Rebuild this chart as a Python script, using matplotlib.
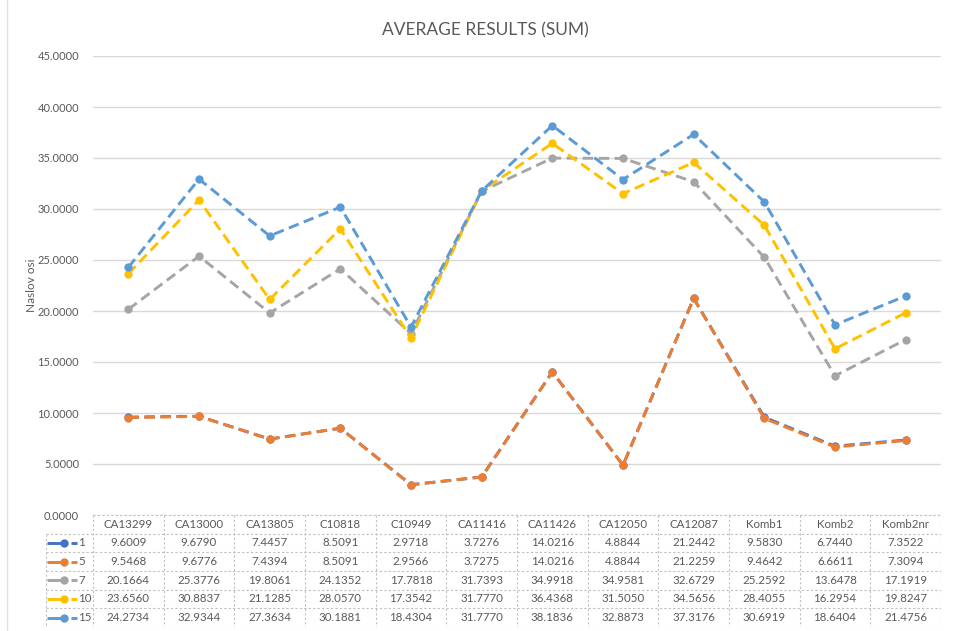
import numpy as np
import matplotlib.pyplot as plt
from matplotlib.lines import Line2D

plt.rcParams['font.family'] = ['Lato', 'DejaVu Sans']

categories = ['CA13299', 'CA13000', 'CA13805', 'C10818', 'C10949', 'CA11416',
              'CA11426', 'CA12050', 'CA12087', 'Komb1', 'Komb2', 'Komb2nr']

s1 = [9.6009, 9.6790, 7.4457, 8.5091, 2.9718, 3.7276, 14.0216, 4.8844, 21.2442, 9.5830, 6.7440, 7.3522]
s5 = [9.5468, 9.6776, 7.4394, 8.5091, 2.9566, 3.7275, 14.0216, 4.8844, 21.2259, 9.4642, 6.6611, 7.3094]
s7 = [20.1664, 25.3776, 19.8061, 24.1352, 17.7818, 31.7393, 34.9918, 34.9581, 32.6729, 25.2592, 13.6478, 17.1919]
s10 = [23.6560, 30.8837, 21.1285, 28.0570, 17.3542, 31.7770, 36.4368, 31.5050, 34.5656, 28.4055, 16.2954, 19.8247]
s15 = [24.2734, 32.9344, 27.3634, 30.1881, 18.4304, 31.7770, 38.1836, 32.8873, 37.3176, 30.6919, 18.6404, 21.4756]

series_names = ['1', '5', '7', '10', '15']
series_vals = [s1, s5, s7, s10, s15]
colors = ['#4472C4', '#ED7D31', '#A5A5A5', '#FFC000', '#5B9BD5']

W, H = 954, 631
fig = plt.figure(figsize=(W / 100, H / 100), dpi=100)

def px_rect(x0, y0, x1, y1):
    return [x0 / W, 1 - y1 / H, (x1 - x0) / W, (y1 - y0) / H]

txt = '#595959'
grid_c = '#D9D9D9'

ax = fig.add_axes(px_rect(93, 56, 941, 515))
x = np.arange(len(categories))
for name, vals, c in zip(series_names, series_vals, colors):
    ax.plot(x, vals, color=c, lw=2.1, ls=(0, (3.6, 1.9)), marker='o', ms=6,
            markeredgewidth=0, label=name, zorder=3)

ax.set_xlim(-0.5, len(categories) - 0.5)
ax.set_ylim(0, 45)
ax.set_yticks(np.arange(0, 46, 5))
ax.set_yticklabels([f'{v:.4f}' for v in np.arange(0, 46, 5)])
ax.set_xticks([])
ax.tick_params(axis='y', length=0, pad=10, labelsize=8, labelcolor=txt)
ax.grid(axis='y', color=grid_c, lw=1)
ax.set_axisbelow(True)
for s in ax.spines.values():
    s.set_visible(False)
ax.set_ylabel('Naslov osi', fontsize=8.5, color=txt)
ax.yaxis.set_label_coords((37 - 93) / (941 - 93), 0.5)
fig.text(485 / W, 1 - 30 / H, 'AVERAGE RESULTS (SUM)', fontsize=12.5, color=txt,
         ha='center', va='center')

# data table below the plot
px_per_unit = (941 - 93) / len(categories)
left_x = -0.5 - (93 - 46) / px_per_unit
tab = fig.add_axes(px_rect(46, 515, 941, 627))
tab.set_xlim(left_x, len(categories) - 0.5)
tab.set_ylim(6, 0)
tab.axis('off')

dash = dict(color='#BFBFBF', lw=0.8, ls=(0, (2, 2)))
# horizontal lines
tab.plot([-0.5, len(categories) - 0.5], [0, 0], **dash)
for r in range(1, 7):
    tab.plot([left_x, len(categories) - 0.5], [r, r], **dash)
# vertical lines
for i in range(len(categories) + 1):
    tab.plot([i - 0.5, i - 0.5], [0, 6], **dash)
tab.plot([left_x, left_x], [1, 6], **dash)

for i, cat in enumerate(categories):
    tab.text(i, 0.5, cat, ha='center', va='center', fontsize=8.3, color=txt)

key_w = (93 - 46) / px_per_unit
for r, (name, vals, c) in enumerate(zip(series_names, series_vals, colors), start=1):
    yk = r + 0.5
    k0 = left_x + 0.03 * key_w
    tab.plot([k0, k0 + 0.36 * key_w], [yk, yk], color=c, lw=2.1, solid_capstyle='butt')
    tab.plot([k0 + 0.36 * key_w], [yk], 'o', color=c, ms=6, markeredgewidth=0)
    tab.plot([k0 + 0.5 * key_w, k0 + 0.62 * key_w], [yk, yk], color=c, lw=2.1,
             solid_capstyle='butt')
    tab.text(k0 + 0.66 * key_w, yk, name, ha='left', va='center', fontsize=8.3, color=txt)
    for i, v in enumerate(vals):
        tab.text(i, yk, f'{v:.4f}', ha='center', va='center', fontsize=8.3, color=txt)

fig.add_artist(Line2D([7 / W, 7 / W], [0, 1], color='#E0E0E0', lw=1))

fig.savefig('out.png', dpi=100)
